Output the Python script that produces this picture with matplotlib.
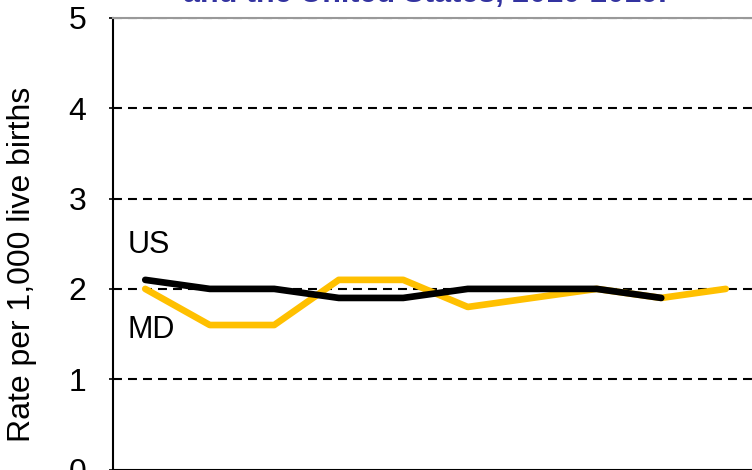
import matplotlib
matplotlib.use("Agg")
import matplotlib.pyplot as plt

years = [2010, 2011, 2012, 2013, 2014, 2015, 2016, 2017, 2018, 2019]
md_rate = [2.0, 1.6, 1.6, 2.1, 2.1, 1.8, 1.9, 2.0, 1.9, 2.0]
us_rate = [2.1, 2.0, 2.0, 1.9, 1.9, 2.0, 2.0, 2.0, 1.9]
yticks = [0, 1, 2, 3, 4, 5]

plt.rcParams['font.family'] = ['Liberation Sans', 'DejaVu Sans']

fig = plt.figure(figsize=(7.52, 4.70), dpi=100)
ax = fig.add_axes([113 / 752, 0.5 / 470, 645 / 752, 451.5 / 470])

xs = list(range(len(years)))
ax.plot(xs, md_rate, color='#FFC000', lw=4.8, solid_capstyle='round', zorder=3)
ax.plot(xs[:len(us_rate)], us_rate, color='black', lw=4.8, solid_capstyle='round', zorder=4)

ax.set_xlim(-0.5, len(years) - 0.5)
ax.set_ylim(0, 5)
ax.set_yticks(yticks)
ax.set_yticklabels([str(v) for v in yticks], fontsize=23)
ax.set_xticks([])
ax.tick_params(axis='y', direction='inout', length=6, width=1.2, pad=16)

for v in yticks[1:]:
    ax.axhline(v, color='black', lw=1.5, ls=(0, (4.3, 2.9)), zorder=2)

ax.spines['top'].set_color('#999999')
ax.spines['top'].set_linewidth(1.5)
ax.spines['right'].set_visible(False)
ax.spines['left'].set_linewidth(1.5)
ax.spines['bottom'].set_linewidth(1.5)

ax.text(-0.27, 2.49, 'US', fontsize=22, va='center', ha='left')
ax.text(-0.27, 1.545, 'MD', fontsize=22, va='center', ha='left')

fig.text(22 / 752, 1 - 264 / 470, 'Rate per 1,000 live births', rotation=90,
         fontsize=23, va='center', ha='center')

fig.text(425 / 752, 1 - 2 / 470, 'and the United States, 2010-2019.', fontsize=22,
         fontweight='bold', color='#3333A0', ha='center', va='baseline')

fig.savefig('out.png', dpi=100)
